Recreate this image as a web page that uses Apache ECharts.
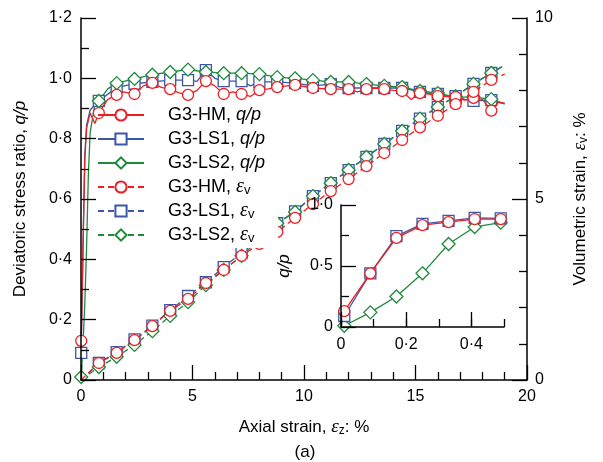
<!DOCTYPE html>
<html>
<head>
<meta charset="utf-8">
<script src="https://cdn.jsdelivr.net/npm/echarts@6/dist/echarts.min.js"></script>
<style>
  html, body { margin: 0; padding: 0; background: #fff; }
  #chart { width: 603px; height: 462px; }
</style>
</head>
<body>
<div id="chart"></div>
<script>
const FONT = '"Liberation Sans", Arial, sans-serif';
const SERIF = '"Liberation Serif", "Times New Roman", serif';
const RED = '#ee1d23', BLUE = '#3b57a6', GREEN = '#1f8a3c';

// Axial strain (%) of the marked readings
const markStrain = [0.8, 1.6, 2.4, 3.2, 4.0, 4.8, 5.6, 6.4, 7.2, 8.0, 8.8, 9.6,
                    10.4, 11.2, 12.0, 12.8, 13.6, 14.4, 15.2, 16.0, 16.8, 17.6, 18.4];

// Deviatoric stress ratio q/p at the marked strains
const hmQp  = [0.885, 0.945, 0.948, 0.985, 0.964, 0.945, 0.991, 0.948, 0.948, 0.961, 0.971, 0.978,
               0.968, 0.964, 0.964, 0.964, 0.964, 0.958, 0.951, 0.941, 0.938, 0.935, 0.893];
const ls1Qp = [0.925, 0.970, 0.982, 0.988, 0.994, 0.994, 1.027, 0.991, 0.991, 0.988, 0.988, 0.984,
               0.975, 0.981, 0.968, 0.968, 0.968, 0.968, 0.955, 0.948, 0.935, 0.925, 0.928];
const ls2Qp = [0.925, 0.984, 0.998, 1.012, 1.021, 1.029, 1.021, 1.017, 1.017, 1.014, 1.004, 1.000,
               0.994, 0.988, 0.988, 0.981, 0.975, 0.971, 0.958, 0.951, 0.938, 0.938, 0.931];

// Volumetric strain (%) at the marked strains
const hmEv  = [0.47, 0.75, 1.10, 1.49, 1.91, 2.24, 2.68, 3.04, 3.43, 3.76, 4.09, 4.48,
               4.86, 5.22, 5.55, 5.91, 6.27, 6.63, 6.98, 7.30, 7.62, 7.96, 8.29];
const ls1Ev = [0.47, 0.77, 1.12, 1.50, 1.93, 2.32, 2.70, 3.12, 3.51, 3.92, 4.33, 4.66,
               5.08, 5.44, 5.80, 6.16, 6.52, 6.88, 7.22, 7.54, 7.84, 8.18, 8.48];
const ls2Ev = [0.36, 0.64, 0.97, 1.35, 1.77, 2.15, 2.62, 3.04, 3.43, 3.88, 4.33, 4.64,
               5.08, 5.44, 5.80, 6.16, 6.52, 6.88, 7.22, 7.54, 7.84, 8.18, 8.48];

// Small-strain readings (inset), axial strain in %
const earlyStrain = [0.01, 0.09, 0.17, 0.25, 0.33, 0.41, 0.49];
const hmEarly  = [0.13, 0.44, 0.73, 0.835, 0.86, 0.885, 0.885];
const ls1Early = [0.09, 0.44, 0.745, 0.845, 0.87, 0.895, 0.89];
const ls2Early = [0.01, 0.12, 0.25, 0.44, 0.68, 0.82, 0.855];

// Unmarked readings between markers (strain %, q/p)
const hmTrace  = [[0.62, 0.85], [1.2, 0.93], [1.9, 0.955], [2.8, 0.975], [3.6, 0.97], [4.4, 0.952],
                  [5.2, 0.96], [6.0, 0.975], [6.8, 0.955], [7.6, 0.94], [8.4, 0.965], [12.4, 0.955],
                  [13.2, 0.968], [14.0, 0.96], [14.8, 0.93], [15.6, 0.948], [17.2, 0.928],
                  [18.0, 0.93], [18.7, 0.92]];
const ls1Trace = [[0.6, 0.91], [5.2, 0.99], [6.0, 1.0], [7.6, 0.975], [11.6, 0.97]];
const ls2Trace = [[0.6, 0.905], [1.2, 0.965]];

// Last reading of each test
const endStrain = 19.0;
const hmQpEnd = 0.918, ls1QpEnd = 0.915, ls2QpEnd = 0.915;
const hmEvEnd = 8.45, ls1EvEnd = 8.70, ls2EvEnd = 8.70;

// Tick label text with a raised decimal point
const dotLabel = v => (Math.abs(v) < 1e-9 ? '0' : v.toFixed(1).replace('.', '·'));

function qpTrace(early, marks, trace, endVal) {
  const pts = [];
  earlyStrain.forEach((x, i) => pts.push(i === 0 ? { value: [x, early[i]] } : { value: [x, early[i]], symbol: 'none' }));
  markStrain.forEach((x, i) => pts.push({ value: [x, marks[i]] }));
  trace.forEach(p => pts.push({ value: p, symbol: 'none' }));
  pts.push({ value: [endStrain, endVal], symbol: 'none' });
  return pts.sort((a, b) => a.value[0] - b.value[0]);
}
function evTrace(marks, endVal) {
  const pts = [{ value: [0, 0], symbol: 'none' }];
  markStrain.forEach((x, i) => pts.push({ value: [x, marks[i]] }));
  pts.push({ value: [endStrain, endVal], symbol: 'none' });
  return pts;
}

const names = ['G3-HM, q/p', 'G3-LS1, q/p', 'G3-LS2, q/p', 'G3-HM, εv', 'G3-LS1, εv', 'G3-LS2, εv'];
const legendText = {
  'G3-HM, q/p': 'G3-HM, {i|q/p}',
  'G3-LS1, q/p': 'G3-LS1, {i|q/p}',
  'G3-LS2, q/p': 'G3-LS2, {i|q/p}',
  'G3-HM, εv': 'G3-HM, {e|ε}{s|v}',
  'G3-LS1, εv': 'G3-LS1, {e|ε}{s|v}',
  'G3-LS2, εv': 'G3-LS2, {e|ε}{s|v}'
};

const marks = { HM: ['circle', 11], LS1: ['rect', 11], LS2: ['diamond', 13] };

function lineSeries(name, color, kind, dashed, xi, yi, data, z) {
  return {
    name, type: 'line', xAxisIndex: xi, yAxisIndex: yi, data,
    symbol: marks[kind][0], symbolSize: marks[kind][1], showAllSymbol: true,
    color,
    lineStyle: { color, width: 1.3, type: dashed ? [6, 4] : 'solid' },
    itemStyle: { color: '#fff', borderColor: color, borderWidth: 1.3 },
    emphasis: { disabled: true }, z
  };
}

const tick = () => ({ color: '#000', width: 1.3 });
const axLine = () => ({ show: true, onZero: false, lineStyle: { color: '#000', width: 1.5 } });
const labels = extra => Object.assign({ color: '#000', fontFamily: FONT, fontSize: 16 }, extra);
const nameStyle = () => ({
  color: '#000', fontFamily: FONT, fontSize: 17, lineHeight: 20,
  rich: {
    i: { fontFamily: FONT, fontSize: 17, fontStyle: 'italic', color: '#000' },
    e: { fontFamily: SERIF, fontSize: 19, fontStyle: 'italic', color: '#000' },
    s: { fontFamily: FONT, fontSize: 12, color: '#000', verticalAlign: 'bottom', lineHeight: 8 }
  }
});
const plotRect = { left: 81, right: 76, top: 18, bottom: 82 };

const chart = echarts.init(document.getElementById('chart'), null, { renderer: 'canvas' });
chart.setOption({
  animation: false,
  backgroundColor: '#fff',
  grid: [
    Object.assign({}, plotRect),                         // 0: data of the main plot
    { left: 341, top: 205, width: 163, height: 122 },    // 1: inset
    { left: 341, top: 205, width: 130.4, height: 122 },  // 2: inset major ticks
    Object.assign({}, plotRect)                          // 3: main plot frame
  ],
  xAxis: [
    { gridIndex: 0, type: 'value', min: 0, max: 20, show: false },
    {
      gridIndex: 1, type: 'value', min: 0, max: 0.5, interval: 0.1, zlevel: 1,
      axisLine: axLine(),
      axisTick: { show: true, inside: true, length: 8, lineStyle: tick() },
      axisLabel: { show: false }, splitLine: { show: false }
    },
    {
      gridIndex: 2, type: 'value', min: 0, max: 0.4, interval: 0.2, zlevel: 1,
      axisLine: { show: false },
      axisTick: { show: true, inside: true, length: 15, lineStyle: tick() },
      axisLabel: labels({ margin: 10, formatter: dotLabel }),
      splitLine: { show: false }
    },
    {
      gridIndex: 3, type: 'value', min: 0, max: 20, interval: 5, zlevel: 1,
      axisLine: axLine(),
      axisTick: { show: true, inside: true, length: 15, lineStyle: tick() },
      minorTick: { show: true, splitNumber: 5, length: 8, lineStyle: tick() },
      axisLabel: labels({ margin: 9 }),
      splitLine: { show: false }, minorSplitLine: { show: false },
      name: 'Axial strain, {e|ε}{s|z}: %', nameLocation: 'middle', nameGap: 37, nameTextStyle: nameStyle()
    }
  ],
  yAxis: [
    { gridIndex: 0, type: 'value', min: 0, max: 1.2, show: false },
    { gridIndex: 0, type: 'value', min: 0, max: 10, show: false },
    {
      gridIndex: 1, type: 'value', min: 0, max: 1, interval: 0.5, zlevel: 1,
      axisLine: axLine(),
      axisTick: { show: true, inside: true, length: 15, lineStyle: tick() },
      minorTick: { show: true, splitNumber: 2, length: 8, lineStyle: tick() },
      axisLabel: labels({ margin: 8, formatter: dotLabel }),
      splitLine: { show: false }, minorSplitLine: { show: false },
      name: '{i|q/p}', nameLocation: 'middle', nameRotate: 90, nameGap: 47, nameTextStyle: nameStyle()
    },
    { gridIndex: 2, type: 'value', min: 0, max: 1, show: false },
    {
      gridIndex: 3, type: 'value', min: 0, max: 1.2, interval: 0.2, position: 'left', zlevel: 1,
      axisLine: axLine(),
      axisTick: { show: true, inside: true, length: 15, lineStyle: tick() },
      minorTick: { show: true, splitNumber: 2, length: 8, lineStyle: tick() },
      axisLabel: labels({ margin: 9, formatter: dotLabel }),
      splitLine: { show: false }, minorSplitLine: { show: false },
      name: 'Deviatoric stress ratio, {i|q/p}', nameLocation: 'middle', nameRotate: 90, nameGap: 51,
      nameTextStyle: nameStyle()
    },
    {
      gridIndex: 3, type: 'value', min: 0, max: 10, interval: 5, position: 'right', zlevel: 1,
      axisLine: axLine(),
      axisTick: { show: true, inside: true, length: 15, lineStyle: tick() },
      minorTick: { show: true, splitNumber: 5, length: 8, lineStyle: tick() },
      axisLabel: labels({ margin: 8 }),
      splitLine: { show: false }, minorSplitLine: { show: false },
      name: 'Volumetric strain, {e|ε}{s|v}: %', nameLocation: 'middle', nameRotate: 90, nameGap: 43,
      nameTextStyle: nameStyle()
    }
  ],
  legend: {
    data: names, orient: 'vertical', left: 97, top: 105, padding: 0,
    itemWidth: 46, itemHeight: 14, itemGap: 4,
    selectedMode: false,
    textStyle: {
      color: '#000', fontFamily: FONT, fontSize: 18, lineHeight: 20, padding: [0, 0, 0, 19],
      rich: {
        i: { fontFamily: FONT, fontSize: 18, fontStyle: 'italic', color: '#000' },
        e: { fontFamily: SERIF, fontSize: 20, fontStyle: 'italic', color: '#000' },
        s: { fontFamily: FONT, fontSize: 13, color: '#000', verticalAlign: 'bottom', lineHeight: 8 }
      }
    },
    formatter: n => legendText[n],
    z: 10
  },
  graphic: [
    { type: 'rect', shape: { x: 160, y: 102, width: 118, height: 146 }, style: { fill: '#fff' }, z: 5 },
    { type: 'text', x: 305, y: 452, style: { text: '(a)', font: '17px ' + FONT, fill: '#000', align: 'center', verticalAlign: 'middle' }, z: 6 }
  ],
  series: [
    lineSeries(names[0], RED, 'HM', false, 0, 0, qpTrace(hmEarly, hmQp, hmTrace, hmQpEnd), 3),
    lineSeries(names[1], BLUE, 'LS1', false, 0, 0, qpTrace(ls1Early, ls1Qp, ls1Trace, ls1QpEnd), 2),
    lineSeries(names[2], GREEN, 'LS2', false, 0, 0, qpTrace(ls2Early, ls2Qp, ls2Trace, ls2QpEnd), 2),
    lineSeries(names[3], RED, 'HM', true, 0, 1, evTrace(hmEv, hmEvEnd), 3),
    lineSeries(names[4], BLUE, 'LS1', true, 0, 1, evTrace(ls1Ev, ls1EvEnd), 2),
    lineSeries(names[5], GREEN, 'LS2', true, 0, 1, evTrace(ls2Ev, ls2EvEnd), 2),
    lineSeries('inset LS2', GREEN, 'LS2', false, 1, 2, earlyStrain.map((x, i) => [x, ls2Early[i]]), 2),
    lineSeries('inset LS1', BLUE, 'LS1', false, 1, 2, earlyStrain.map((x, i) => [x, ls1Early[i]]), 2),
    lineSeries('inset HM', RED, 'HM', false, 1, 2, earlyStrain.map((x, i) => [x, hmEarly[i]]), 3)
  ]
});
</script>
</body>
</html>
